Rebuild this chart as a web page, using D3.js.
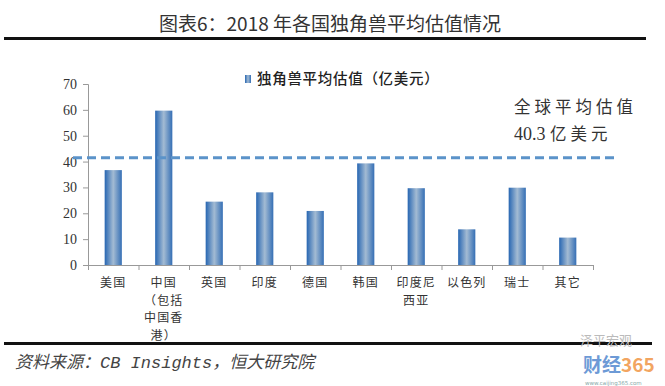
<!DOCTYPE html>
<html>
<head>
<meta charset="utf-8">
<script src="https://cdn.jsdelivr.net/npm/d3@7"></script>
<style>
  body { margin: 0; background: #fff; }
  svg { display: block; }
  .tick text { font-family: "Liberation Serif", serif; font-size: 14px; fill: #333; }
  .xlab { font-family: "Noto Sans CJK SC", sans-serif; font-size: 12px; fill: #333; letter-spacing: 1.2px; }
</style>
</head>
<body>
<div id="chart"></div>
<script>
// chart data
var categories = ["美国", "中国（包括中国香港）", "英国", "印度", "德国", "韩国", "印度尼西亚", "以色列", "瑞士", "其它"];
var labelLines = [["美国"], ["中国", "（包括", "中国香", "港）"], ["英国"], ["印度"], ["德国"], ["韩国"], ["印度尼", "西亚"], ["以色列"], ["瑞士"], ["其它"]];
var values = [36.7, 59.7, 24.5, 28.1, 20.9, 39.3, 29.7, 13.8, 29.9, 10.6];
var yTicks = [0, 10, 20, 30, 40, 50, 60, 70];
var avgLine = 41.5;   // where the dashed line sits
var seriesName = "独角兽平均估值（亿美元）";

var W = 665, H = 386;
var margin = {top: 84, left: 88, right: 72, bottom: 121};

var svg = d3.select("#chart").append("svg")
  .attr("width", W).attr("height", H);

// bar gradient: dark edges, pale middle
var grad = svg.append("defs").append("linearGradient")
  .attr("id", "barGrad").attr("x1", "0%").attr("x2", "100%").attr("y1", "0%").attr("y2", "0%");
grad.append("stop").attr("offset", "0%").attr("stop-color", "#2766b2");
grad.append("stop").attr("offset", "50%").attr("stop-color", "#a3bbd3");
grad.append("stop").attr("offset", "100%").attr("stop-color", "#356fb5");

// title + rules
svg.append("text")
  .attr("x", 330).attr("y", 31)
  .attr("text-anchor", "middle")
  .style("font-family", "'Noto Sans CJK SC', sans-serif")
  .style("font-size", "19px")
  .style("fill", "#333")
  .text("图表6：2018 年各国独角兽平均估值情况");

svg.append("line").attr("x1", 4).attr("x2", 646).attr("y1", 38.5).attr("y2", 38.5)
  .attr("stroke", "#111").attr("stroke-width", 3);
svg.append("line").attr("x1", 4).attr("x2", 652).attr("y1", 343.5).attr("y2", 343.5)
  .attr("stroke", "#111").attr("stroke-width", 3);

// scales
var x = d3.scaleBand()
  .domain(categories)
  .range([margin.left, 593])
  .padding(0);

var y = d3.scaleLinear()
  .domain([0, 70])
  .range([265, margin.top]);

var barW = x.bandwidth() * 0.34;

// y axis
var yAxis = svg.append("g")
  .attr("transform", "translate(" + margin.left + ",0)")
  .call(d3.axisLeft(y).tickValues(yTicks).tickSize(5).tickPadding(6));
yAxis.select(".domain").attr("stroke", "#999");
yAxis.selectAll(".tick line").attr("stroke", "#999");

// x axis with ticks at band edges
svg.append("line")
  .attr("x1", margin.left - 5).attr("x2", 593)
  .attr("y1", y(0) + 0.5).attr("y2", y(0) + 0.5)
  .attr("stroke", "#999");

var edges = categories.map(function(c) { return x(c); }).concat([593]);
svg.selectAll(".xtick")
  .data(edges)
  .enter().append("line")
  .attr("class", "xtick")
  .attr("x1", function(d) { return d + 0.5; })
  .attr("x2", function(d) { return d + 0.5; })
  .attr("y1", y(0))
  .attr("y2", y(0) + 5)
  .attr("stroke", "#999");

// bars
svg.selectAll(".bar")
  .data(values)
  .enter().append("rect")
  .attr("class", "bar")
  .attr("x", function(d, i) { return x(categories[i]) + x.bandwidth() / 2 - barW / 2; })
  .attr("width", barW)
  .attr("y", function(d) { return y(d); })
  .attr("height", function(d) { return y(0) - y(d); })
  .attr("fill", "url(#barGrad)");

// category labels, one text per line
labelLines.forEach(function(lines, i) {
  lines.forEach(function(t, j) {
    svg.append("text")
      .attr("class", "xlab")
      .attr("text-anchor", "middle")
      .attr("x", x(categories[i]) + x.bandwidth() / 2)
      .attr("y", 287 + j * 17.5)
      .text(t);
  });
});

// average dashed line
svg.append("line")
  .attr("x1", 73).attr("x2", 619)
  .attr("y1", y(avgLine)).attr("y2", y(avgLine))
  .attr("stroke", "#5b93c9")
  .attr("stroke-width", 3)
  .attr("stroke-dasharray", "9,5");

// legend
svg.append("rect")
  .attr("x", 245).attr("y", 75).attr("width", 6).attr("height", 8)
  .attr("fill", "url(#barGrad)");
svg.append("text")
  .attr("x", 257).attr("y", 84)
  .style("font-family", "'Noto Sans CJK SC', sans-serif")
  .style("font-size", "14.5px")
  .style("font-weight", "500")
  .style("letter-spacing", "0.7px")
  .style("fill", "#222")
  .text(seriesName);

// annotation
var annoStyle = function(sel) {
  return sel.style("font-family", "'Noto Sans CJK SC', sans-serif")
    .style("font-size", "16.5px")
    .style("fill", "#333");
};
annoStyle(svg.append("text").attr("x", 514).attr("y", 113))
  .style("letter-spacing", "4px")
  .text("全球平均估值");
var a2 = annoStyle(svg.append("text").attr("x", 514).attr("y", 140));
a2.append("tspan").style("font-family", "'Liberation Serif', serif").style("font-size", "18px").text("40.3 ");
a2.append("tspan").style("letter-spacing", "4px").text("亿美元");

// source
svg.append("text")
  .attr("x", 15).attr("y", 368)
  .style("font-family", "'Liberation Mono', 'Noto Sans CJK SC', monospace")
  .style("font-size", "17px")
  .style("font-style", "italic")
  .style("fill", "#444")
  .text("资料来源：CB Insights，恒大研究院");

// watermark
svg.append("text")
  .attr("x", 580).attr("y", 345)
  .style("font-family", "'Noto Sans CJK SC', sans-serif")
  .style("font-size", "13px")
  .style("fill", "#bbb")
  .text("泽平宏观");
var wm = svg.append("text")
  .attr("x", 583).attr("y", 372)
  .style("font-family", "'Noto Sans CJK SC', sans-serif")
  .style("font-size", "19px")
  .style("font-weight", "bold");
wm.append("tspan").attr("fill", "#6d9ad6").text("财经");
wm.append("tspan").attr("fill", "#f2a561").text("365");
svg.append("text")
  .attr("x", 585).attr("y", 384.5)
  .style("font-family", "'DejaVu Sans', sans-serif")
  .style("font-size", "5.5px")
  .style("fill", "#8aa")
  .text("www.caijing365.com");
</script>
</body>
</html>
